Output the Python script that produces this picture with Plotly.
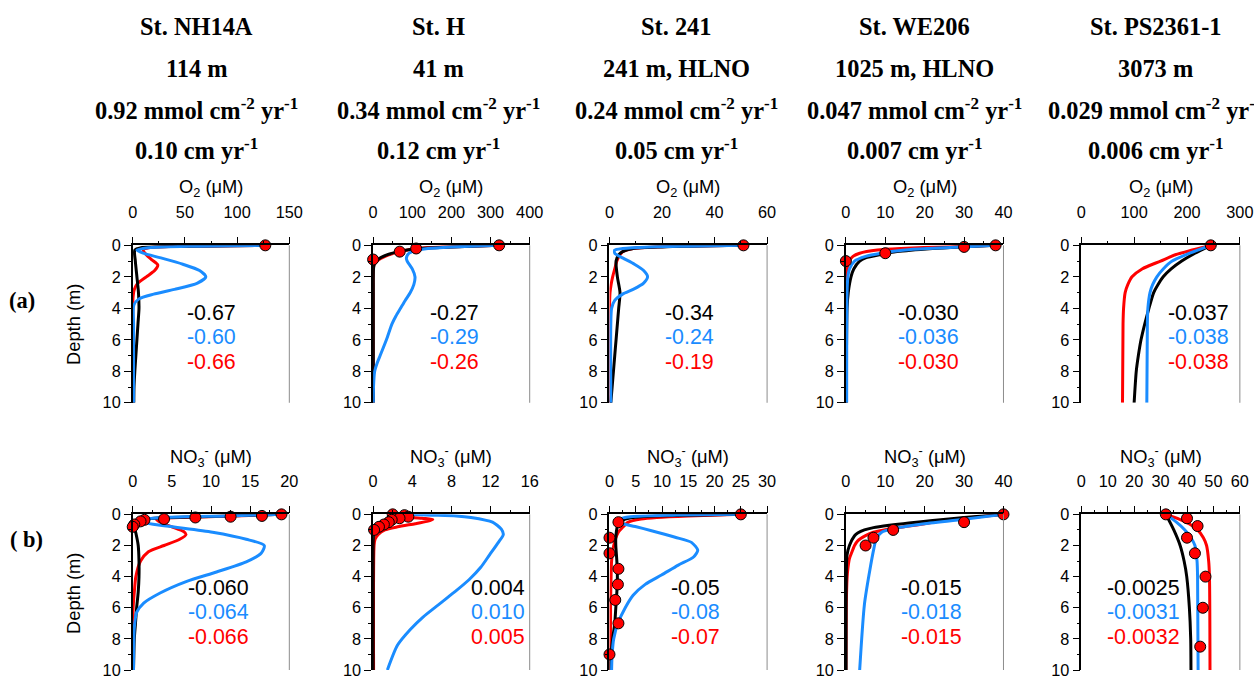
import plotly.graph_objects as go

# ---------------- header text ----------------
stations = ["St. NH14A", "St. H", "St. 241", "St. WE206", "St. PS2361-1"]
water_depth = ["114 m", "41 m", "241 m, HLNO", "1025 m, HLNO", "3073 m"]
flux = ["0.92", "0.34", "0.24", "0.047", "0.029"]
sed_rate = ["0.10", "0.12", "0.05", "0.007", "0.006"]

# ---------------- axis ranges / ticks ----------------
o2_xmax = [150, 400, 60, 40, 300]
o2_dtick = [50, 100, 20, 10, 100]
no3_xmax = [20, 16, 30, 40, 60]
no3_dtick = [5, 4, 5, 10, 10]
depth_ticks = [0, 2, 4, 6, 8, 10]

# ---------------- values printed in panels ----------------
o2_black_txt = ["-0.67", "-0.27", "-0.34", "-0.030", "-0.037"]
o2_blue_txt = ["-0.60", "-0.29", "-0.24", "-0.036", "-0.038"]
o2_red_txt = ["-0.66", "-0.26", "-0.19", "-0.030", "-0.038"]
no3_black_txt = ["-0.060", "0.004", "-0.05", "-0.015", "-0.0025"]
no3_blue_txt = ["-0.064", "0.010", "-0.08", "-0.018", "-0.0031"]
no3_red_txt = ["-0.066", "0.005", "-0.07", "-0.015", "-0.0032"]

# ---------------- O2 profiles (depth m, conc uM) ----------------
a1_black_z = [0, 0.05, 0.15, 0.3, 1, 2, 3, 4, 5, 6, 7, 8, 9, 10]
a1_black_c = [127, 50, 8, 2, 2.5, 4, 5.5, 6, 5, 4, 3, 2, 1.2, 1]
a1_red_z = [0, 0.05, 0.15, 0.3, 0.6, 0.9, 1.25, 1.6, 2, 2.4, 2.8, 3.3, 4, 10]
a1_red_c = [127, 60, 15, 10, 13, 18, 24, 21, 13, 5, 1.5, 0.3, 0, 0]
a1_blue_z = [0, 0.05, 0.15, 0.3, 0.5, 0.8, 1.2, 1.6, 2.0, 2.4, 2.8, 3.1, 3.4, 3.8, 5, 10]
a1_blue_c = [127, 60, 15, 4, 10, 27, 48, 64, 70, 62, 40, 20, 6, 1, 0.8, 0.8]
a1_pts_z = [0]
a1_pts_c = [127]

a2_black_z = [0, 0.1, 0.2, 0.4, 0.6, 0.9, 1.2, 1.5, 3, 10]
a2_black_c = [322, 200, 115, 65, 35, 12, 3, 1, 0.5, 0.5]
a2_red_z = [0, 0.1, 0.2, 0.4, 0.6, 0.9, 1.2, 1.5, 3, 10]
a2_red_c = [322, 190, 110, 68, 40, 15, 3, 0.5, 0, 0]
a2_blue_z = [0, 0.05, 0.1, 0.2, 0.3, 0.5, 0.8, 1.0, 1.5, 2.0, 2.5, 3, 3.5, 4, 4.5, 5, 6, 7, 7.5, 8, 9, 10]
a2_blue_c = [322, 250, 200, 140, 115, 92, 85, 87, 100, 107, 104, 95, 82, 70, 58, 48, 34, 18, 10, 4, 1, 0.5]
a2_pts_z = [0, 0.2, 0.4, 0.9]
a2_pts_c = [322, 110, 68, 0]

a3_black_z = [0, 0.1, 0.2, 0.4, 0.6, 1, 2, 3, 4, 5, 6, 7, 8, 9, 10]
a3_black_c = [51, 20, 9, 5, 3.5, 2.5, 3, 4, 3.5, 3, 2.5, 2, 1.5, 1, 0.5]
a3_red_z = [0, 0.1, 0.2, 0.4, 0.6, 1, 1.5, 2, 2.5, 3, 4, 10]
a3_red_c = [51, 18, 9, 5, 4, 2.8, 2, 1.2, 0.6, 0.2, 0, 0]
a3_blue_z = [0, 0.05, 0.1, 0.2, 0.3, 0.5, 0.8, 1.2, 1.6, 2.0, 2.4, 2.8, 3.1, 3.5, 4, 5, 10]
a3_blue_c = [51, 30, 15, 5, 2, 2, 5, 9.5, 13, 14.5, 13, 9, 5, 2, 0.8, 0.5, 0.5]
a3_pts_z = [0]
a3_pts_c = [51]

a4_black_z = [0, 0.1, 0.2, 0.4, 0.6, 0.8, 1.0, 1.5, 2, 3, 4, 10]
a4_black_c = [38, 29, 22, 13, 8.5, 5, 3.5, 2, 1.3, 0.6, 0.3, 0.1]
a4_red_z = [0, 0.1, 0.2, 0.3, 0.5, 0.7, 1.0, 1.5, 2, 3, 10]
a4_red_c = [38, 25, 14, 8, 3.5, 1.8, 0.8, 0.3, 0.2, 0.1, 0]
a4_blue_z = [0, 0.1, 0.2, 0.3, 0.5, 0.7, 1.0, 1.5, 2, 3, 10]
a4_blue_c = [38, 29, 21, 15, 9, 5, 2.2, 0.9, 0.5, 0.3, 0.2]
a4_pts_z = [0, 0.1, 0.5, 1.0]
a4_pts_c = [38, 30, 10, 0]

a5_black_z = [0, 0.5, 1, 1.5, 2, 2.5, 3, 4, 5, 6, 7, 8, 10]
a5_black_c = [245, 215, 190, 170, 155, 145, 137, 128, 120, 113, 108, 104, 100]
a5_red_z = [0, 0.3, 0.6, 1.0, 1.5, 2, 2.5, 3, 4, 5, 10]
a5_red_c = [245, 210, 178, 150, 115, 96, 88, 83, 80, 79, 78]
a5_blue_z = [0, 0.5, 1, 1.5, 2, 2.5, 3, 4, 5, 10]
a5_blue_c = [245, 205, 172, 155, 143, 135, 130, 126, 125, 124]
a5_pts_z = [0]
a5_pts_c = [245]

# ---------------- NO3- profiles (depth m, conc uM) ----------------
b1_black_z = [0, 0.1, 0.2, 0.3, 0.5, 0.8, 1.2, 2, 3, 4, 5, 6, 7, 8, 10]
b1_black_c = [19, 12, 5, 1.5, 0.4, 0.2, 0.4, 0.7, 0.8, 0.8, 0.7, 0.5, 0.35, 0.2, 0.1]
b1_red_z = [0, 0.1, 0.2, 0.3, 0.5, 0.8, 1.1, 1.3, 1.6, 2.0, 2.4, 3, 4, 5, 6, 7, 10]
b1_red_c = [19, 13, 6, 3, 3.5, 5, 6.5, 6.8, 6, 4, 2, 1, 0.4, 0.2, 0.05, 0, 0]
b1_blue_z = [0, 0.1, 0.2, 0.35, 0.5, 0.75, 1.15, 1.6, 2.0, 2.5, 3.05, 3.7, 4.3, 5.05, 5.7, 6.3, 7.3, 10]
b1_blue_c = [19, 12, 4, 0.8, 1.2, 4.3, 10.2, 14.5, 16.8, 16.4, 14.5, 10.7, 6.9, 3.5, 1.4, 0.5, 0.2, 0.1]
b1_pts_z = [0, 0.1, 0.15, 0.2, 0.3, 0.35, 0.45, 0.65, 0.8]
b1_pts_c = [19, 16.5, 12.5, 8, 4, 1.5, 1, 0.2, 0]

b2_black_z = [0, 0.15, 0.3, 0.5, 0.7, 0.9, 1.1, 1.5, 2, 10]
b2_black_c = [3.6, 3.2, 2.4, 1.6, 1.0, 0.4, 0.1, 0.02, 0, 0]
b2_red_z = [0, 0.15, 0.25, 0.33, 0.45, 0.6, 0.8, 1.0, 1.3, 1.6, 2, 10]
b2_red_c = [3.6, 3.6, 5, 6.1, 5.5, 4.3, 2.5, 1.2, 0.5, 0.2, 0.1, 0.05]
b2_blue_z = [0, 0.05, 0.1, 0.2, 0.5, 0.95, 1.3, 1.8, 2.6, 3.4, 4.2, 5.0, 5.8, 6.6, 7.4, 8.4, 10]
b2_blue_c = [3.6, 6, 8.5, 10, 12.2, 13.1, 13.3, 12.8, 11.9, 11.0, 9.8, 8.3, 6.7, 5.1, 3.8, 2.5, 1.46]
b2_pts_z = [0, 0.05, 0.15, 0.25, 0.35, 0.5, 0.65, 0.8, 1.0]
b2_pts_c = [2.0, 3.2, 3.6, 2.7, 1.9, 1.6, 1.1, 0.6, 0.1]

b3_black_z = [0, 0.05, 0.15, 0.3, 0.5, 0.8, 1.5, 2, 3, 4, 5, 6, 7, 8, 9, 10]
b3_black_c = [25, 15, 6, 3, 2, 1.5, 1.2, 1.2, 1.4, 1.5, 1.4, 1.2, 1, 0.6, 0.3, 0.1]
b3_red_z = [0, 0.1, 0.2, 0.3, 0.5, 0.8, 1.2, 2, 3, 4, 6, 8, 10]
b3_red_c = [25, 15, 9, 6, 3.6, 2.6, 1.6, 0.8, 0.4, 0.3, 0.2, 0.2, 0.1]
b3_blue_z = [0, 0.05, 0.15, 0.3, 0.5, 0.78, 1.05, 1.47, 1.8, 2.3, 2.74, 3.26, 3.9, 4.5, 5.2, 6, 7, 8, 9, 10]
b3_blue_c = [25, 12, 4, 2, 1.7, 4.9, 8, 12.5, 15.6, 16.8, 16, 13.1, 9.9, 6.8, 4.5, 3, 1.6, 0.8, 0.5, 0.4]
b3_pts_z = [0, 0.5, 1.5, 2.5, 3.5, 4.5, 5.5, 7, 9]
b3_pts_c = [25, 1.7, 0, 0, 1.7, 1.6, 1.1, 1.7, 0]

b4_black_z = [0, 0.2, 0.4, 0.55, 0.7, 0.85, 1.0, 1.2, 1.37, 2, 2.6, 4, 10]
b4_black_c = [40, 30, 22, 16, 11, 7, 4.7, 3, 2.2, 0.9, 0.3, 0.1, 0.05]
b4_red_z = [0, 0.2, 0.4, 0.6, 0.75, 0.95, 1.15, 1.37, 1.7, 2, 2.5, 2.84, 3.5, 4.1, 6, 10]
b4_red_c = [40, 32, 25, 20, 16, 10.6, 7, 5, 3, 2.2, 1.4, 0.9, 0.5, 0.3, 0.1, 0]
b4_blue_z = [0, 0.32, 0.63, 0.9, 1.16, 1.58, 2.2, 3.7, 5.8, 10]
b4_blue_c = [40, 30, 19, 12.3, 9, 7.7, 7.1, 6, 4.7, 3.5]
b4_pts_z = [0, 0.5, 1.0, 1.5, 2.0]
b4_pts_c = [40, 30, 12, 7, 5]

b5_black_z = [0, 1, 2, 3, 4, 6, 8, 10]
b5_black_c = [32, 35, 37.4, 38.9, 39.9, 40.9, 41.4, 41.5]
b5_red_z = [0, 0.3, 0.63, 1, 1.5, 2, 3, 4, 10]
b5_red_c = [32, 37, 41.1, 44, 46.2, 47.4, 48.2, 48.5, 48.7]
b5_blue_z = [0, 0.5, 1, 1.5, 2, 3, 4, 10]
b5_blue_c = [32, 36, 39.2, 41.5, 43, 43.8, 44, 44.2]
b5_pts_z = [0, 0.25, 0.75, 1.5, 2.5, 4, 6, 8.5]
b5_pts_c = [32, 40, 44, 40, 43, 47, 46, 45]

# ---------------- styling / layout constants ----------------
W, H = 1254, 679
# the captured picture is the page fitted with a small frame, so target
# positions are pre-compensated for that fit
M_X, M_Y = 5, 8
SX, SY = W / (W + 16), H / (H + 16)
FS = 1 / ((SX + SY) / 2)
BLACK, BLUE, RED = "#000000", "#1a8cff", "#ff0000"
SANS = "Liberation Sans, Arial, sans-serif"
SERIF = "Liberation Serif, Times New Roman, serif"
col_l = [133, 374, 611, 848, 1084]
col_r = [290, 531, 769, 1006, 1243]
row_t = [245, 515]
row_b = [403, 673]
header_x = [197, 440, 678, 917, 1158]
header_y = [25, 68, 108, 148]
txt_frac_a = [0.50, 0.52, 0.51, 0.525, 0.74]
txt_frac_b = [0.55, 0.80, 0.545, 0.545, 0.39]
txt_depth_a = [4.3, 5.85, 7.4]
txt_depth_b = [4.75, 6.3, 7.85]


def px_x(p):
    return min(1.0, max(0.0, (p / SX - M_X) / W))


def px_y(p):
    return min(1.0, max(0.0, 1 - (p / SY - M_Y) / H))


def fsz(s):
    return round(s * FS, 1)


rows = [
    dict(xmax=o2_xmax, dtick=o2_dtick, title="O<sub>2</sub> (μM)",
         txt=(o2_black_txt, o2_blue_txt, o2_red_txt), frac=txt_frac_a, tdep=txt_depth_a,
         panels=[
             (a1_black_c, a1_black_z, a1_red_c, a1_red_z, a1_blue_c, a1_blue_z, a1_pts_c, a1_pts_z),
             (a2_black_c, a2_black_z, a2_red_c, a2_red_z, a2_blue_c, a2_blue_z, a2_pts_c, a2_pts_z),
             (a3_black_c, a3_black_z, a3_red_c, a3_red_z, a3_blue_c, a3_blue_z, a3_pts_c, a3_pts_z),
             (a4_black_c, a4_black_z, a4_red_c, a4_red_z, a4_blue_c, a4_blue_z, a4_pts_c, a4_pts_z),
             (a5_black_c, a5_black_z, a5_red_c, a5_red_z, a5_blue_c, a5_blue_z, a5_pts_c, a5_pts_z),
         ]),
    dict(xmax=no3_xmax, dtick=no3_dtick, title="NO<sub>3</sub><sup>-</sup> (μM)",
         txt=(no3_black_txt, no3_blue_txt, no3_red_txt), frac=txt_frac_b, tdep=txt_depth_b,
         panels=[
             (b1_black_c, b1_black_z, b1_red_c, b1_red_z, b1_blue_c, b1_blue_z, b1_pts_c, b1_pts_z),
             (b2_black_c, b2_black_z, b2_red_c, b2_red_z, b2_blue_c, b2_blue_z, b2_pts_c, b2_pts_z),
             (b3_black_c, b3_black_z, b3_red_c, b3_red_z, b3_blue_c, b3_blue_z, b3_pts_c, b3_pts_z),
             (b4_black_c, b4_black_z, b4_red_c, b4_red_z, b4_blue_c, b4_blue_z, b4_pts_c, b4_pts_z),
             (b5_black_c, b5_black_z, b5_red_c, b5_red_z, b5_blue_c, b5_blue_z, b5_pts_c, b5_pts_z),
         ]),
]

fig = go.Figure()
annotations = []
shapes = []
layout_axes = {}

for r, row in enumerate(rows):
    for c in range(5):
        k = r * 5 + c + 1
        sfx = "" if k == 1 else str(k)
        xa, ya = f"x{sfx}", f"y{sfx}"
        bc, bz, rc, rz, uc, uz, pc, pz = row["panels"][c]
        for xs, ys, col in ((rc, rz, RED), (bc, bz, BLACK), (uc, uz, BLUE)):
            fig.add_trace(go.Scatter(x=xs, y=ys, mode="lines", xaxis=xa, yaxis=ya,
                                     line=dict(color=col, width=3, shape="spline", smoothing=0.7),
                                     hoverinfo="skip", showlegend=False))
        fig.add_trace(go.Scatter(x=pc, y=pz, mode="markers", xaxis=xa, yaxis=ya, cliponaxis=False,
                                 marker=dict(size=11, color=RED, line=dict(color=BLACK, width=1)),
                                 hoverinfo="skip", showlegend=False))
        dt = row["dtick"][c]
        layout_axes[f"xaxis{sfx}"] = dict(
            domain=[px_x(col_l[c]), px_x(col_r[c])], anchor=ya, side="top",
            range=[0, row["xmax"][c]], tickmode="linear", tick0=0, dtick=dt,
            ticks="outside", ticklen=7, tickwidth=1, tickcolor="black",
            minor=dict(dtick=dt / 2, ticks="outside", ticklen=3, tickcolor="black"),
            showline=True, linecolor="black", linewidth=1.5, showgrid=False, zeroline=False,
            tickfont=dict(family=SANS, size=fsz(16), color="black"), ticklabelstandoff=12,
        )
        layout_axes[f"yaxis{sfx}"] = dict(
            domain=[px_y(row_b[r]), px_y(row_t[r])], anchor=xa,
            range=[10, 0], tickmode="array", tickvals=depth_ticks,
            ticks="outside", ticklen=7, tickwidth=1, tickcolor="black",
            minor=dict(dtick=1, ticks="outside", ticklen=3, tickcolor="black"),
            showline=True, linecolor="black", linewidth=1.5, showgrid=False, zeroline=False,
            tickfont=dict(family=SANS, size=fsz(16), color="black"),
        )
        shapes.append(dict(type="line", xref=f"{xa} domain", yref=f"{ya} domain",
                           x0=1, x1=1, y0=0, y1=1, line=dict(color="#8c8c8c", width=1)))
        # axis title
        annotations.append(dict(text=row["title"], xref=f"{xa} domain", x=0.5,
                                yref="paper", y=px_y(row_t[r] - 58), showarrow=False,
                                font=dict(family=SANS, size=fsz(18), color="black"),
                                xanchor="center", yanchor="middle"))
        # flux values
        for txt_list, col, dep in zip(row["txt"], (BLACK, BLUE, RED), row["tdep"]):
            annotations.append(dict(text=txt_list[c], xref=f"{xa} domain", x=row["frac"][c],
                                    yref=ya, y=dep, showarrow=False,
                                    font=dict(family=SANS, size=fsz(21), color=col),
                                    xanchor="center", yanchor="middle"))
    # depth label
    annotations.append(dict(text="Depth (m)", xref="paper", x=px_x(73), yref="paper",
                            y=px_y((row_t[r] + row_b[r]) / 2), textangle=-90, showarrow=False,
                            font=dict(family=SANS, size=fsz(18), color="black"),
                            xanchor="center", yanchor="middle"))

annotations.append(dict(text="<b>(a)</b>", xref="paper", x=px_x(22), yref="paper", y=px_y(300),
                        showarrow=False, font=dict(family=SERIF, size=fsz(22), color="black"),
                        xanchor="center", yanchor="middle"))
annotations.append(dict(text="<b>( b)</b>", xref="paper", x=px_x(26), yref="paper", y=px_y(540),
                        showarrow=False, font=dict(family=SERIF, size=fsz(22), color="black"),
                        xanchor="center", yanchor="middle"))

for c in range(5):
    lines = [stations[c], water_depth[c],
             f"{flux[c]} mmol cm<sup>-2</sup> yr<sup>-1</sup>",
             f"{sed_rate[c]} cm yr<sup>-1</sup>"]
    for t, yy in zip(lines, header_y):
        annotations.append(dict(text=f"<b>{t}</b>", xref="paper", x=px_x(header_x[c]),
                                yref="paper", y=px_y(yy), showarrow=False,
                                font=dict(family=SERIF, size=fsz(24), color="black"),
                                xanchor="center", yanchor="middle"))

fig.update_layout(width=W, height=H, margin=dict(l=0, r=0, t=0, b=0),
                  paper_bgcolor="white", plot_bgcolor="white", showlegend=False,
                  annotations=annotations, shapes=shapes, **layout_axes)

fig.write_html(
    "out.html",
    config={"displayModeBar": False},
    post_script="document.body.style.margin='0';document.body.style.overflow='hidden';",
)
